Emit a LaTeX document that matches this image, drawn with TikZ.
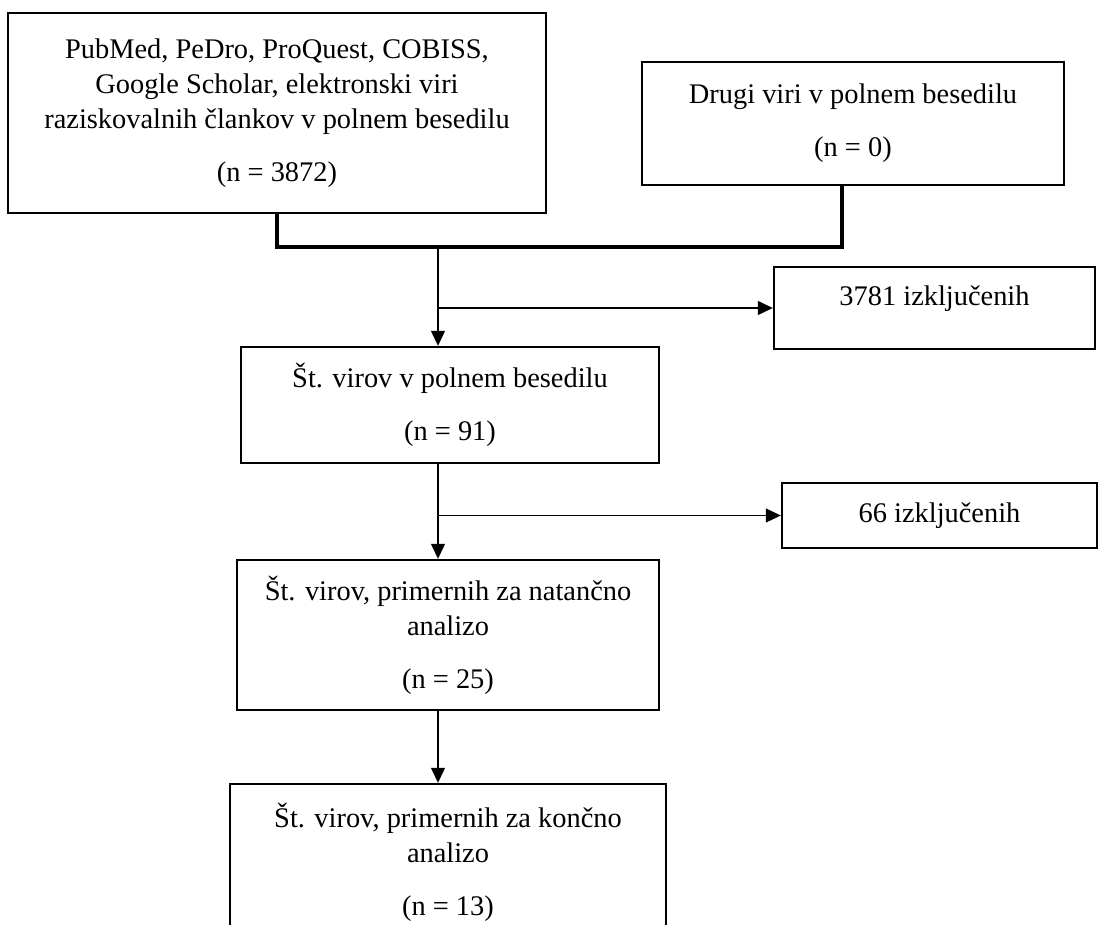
\documentclass[tikz,border=0pt]{standalone}
\usepackage{fontspec}
\setmainfont{Liberation Serif}
\usetikzlibrary{arrows.meta}

\begin{document}
\begin{tikzpicture}[x=0.5pt, y=-0.5pt,
    box/.style={draw, line width=1.2pt, align=center, inner sep=2pt,
      font=\fontsize{14.2}{17.5}\selectfont},
    flow/.style={line width=0.6pt, -{Triangle[length=7.5pt, width=7pt]}},
    merge/.style={line width=2pt}]
    % Page frame (pixel grid of the figure, y downwards); the last box runs off the page
    \useasboundingbox (0,0) rectangle (1099,925);
    \clip (0,0) rectangle (1099,925);

    % Sources
    \node[box, minimum width=269pt, minimum height=100pt] (src) at (277,113)
      {PubMed, PeDro, ProQuest, COBISS,\\ Google Scholar, elektronski viri\\
       raziskovalnih člankov v polnem besedilu\\[9pt] (n = 3872)};
    \node[box, minimum width=211pt, minimum height=61.5pt] (other) at (853,123.5)
      {Drugi viri v polnem besedilu\\[9pt] (n = 0)};

    % Merged sources
    \draw[merge] (src.south) -- ++(0,33) -| ([xshift=-5.5pt]other.south);
    \coordinate (trunk) at (438,246);

    % Screening steps
    \node[box, minimum width=209pt, minimum height=58pt] (full) at (450,405)
      {Št. virov v polnem besedilu\\[9pt] (n = 91)};
    \node[box, minimum width=211pt, minimum height=75pt] (screen) at (448,635)
      {Št. virov, primernih za natančno\\ analizo\\[9pt] (n = 25)};
    \node[box, minimum width=218pt, minimum height=78pt] (final) at (448,862)
      {Št. virov, primernih za končno\\ analizo\\[9pt] (n = 13)};

    % Excluded
    \node[box, minimum width=160.5pt, minimum height=41pt,
      text height=9.5pt, text depth=11.5pt] (excl1) at (934.5,308) {3781 izključenih};
    \node[box, minimum width=157.5pt, minimum height=32.5pt] (excl2) at (939.5,515.5)
      {66 izključenih};

    % Flow
    \draw[flow] (trunk) -- (trunk |- full.north);
    \draw[flow] (trunk |- excl1.west) -- (excl1.west);
    \draw[flow] (trunk |- full.south) -- (trunk |- screen.north);
    \draw[flow] (trunk |- excl2.west) -- (excl2.west);
    \draw[flow] (trunk |- screen.south) -- (trunk |- final.north);
\end{tikzpicture}
\end{document}
